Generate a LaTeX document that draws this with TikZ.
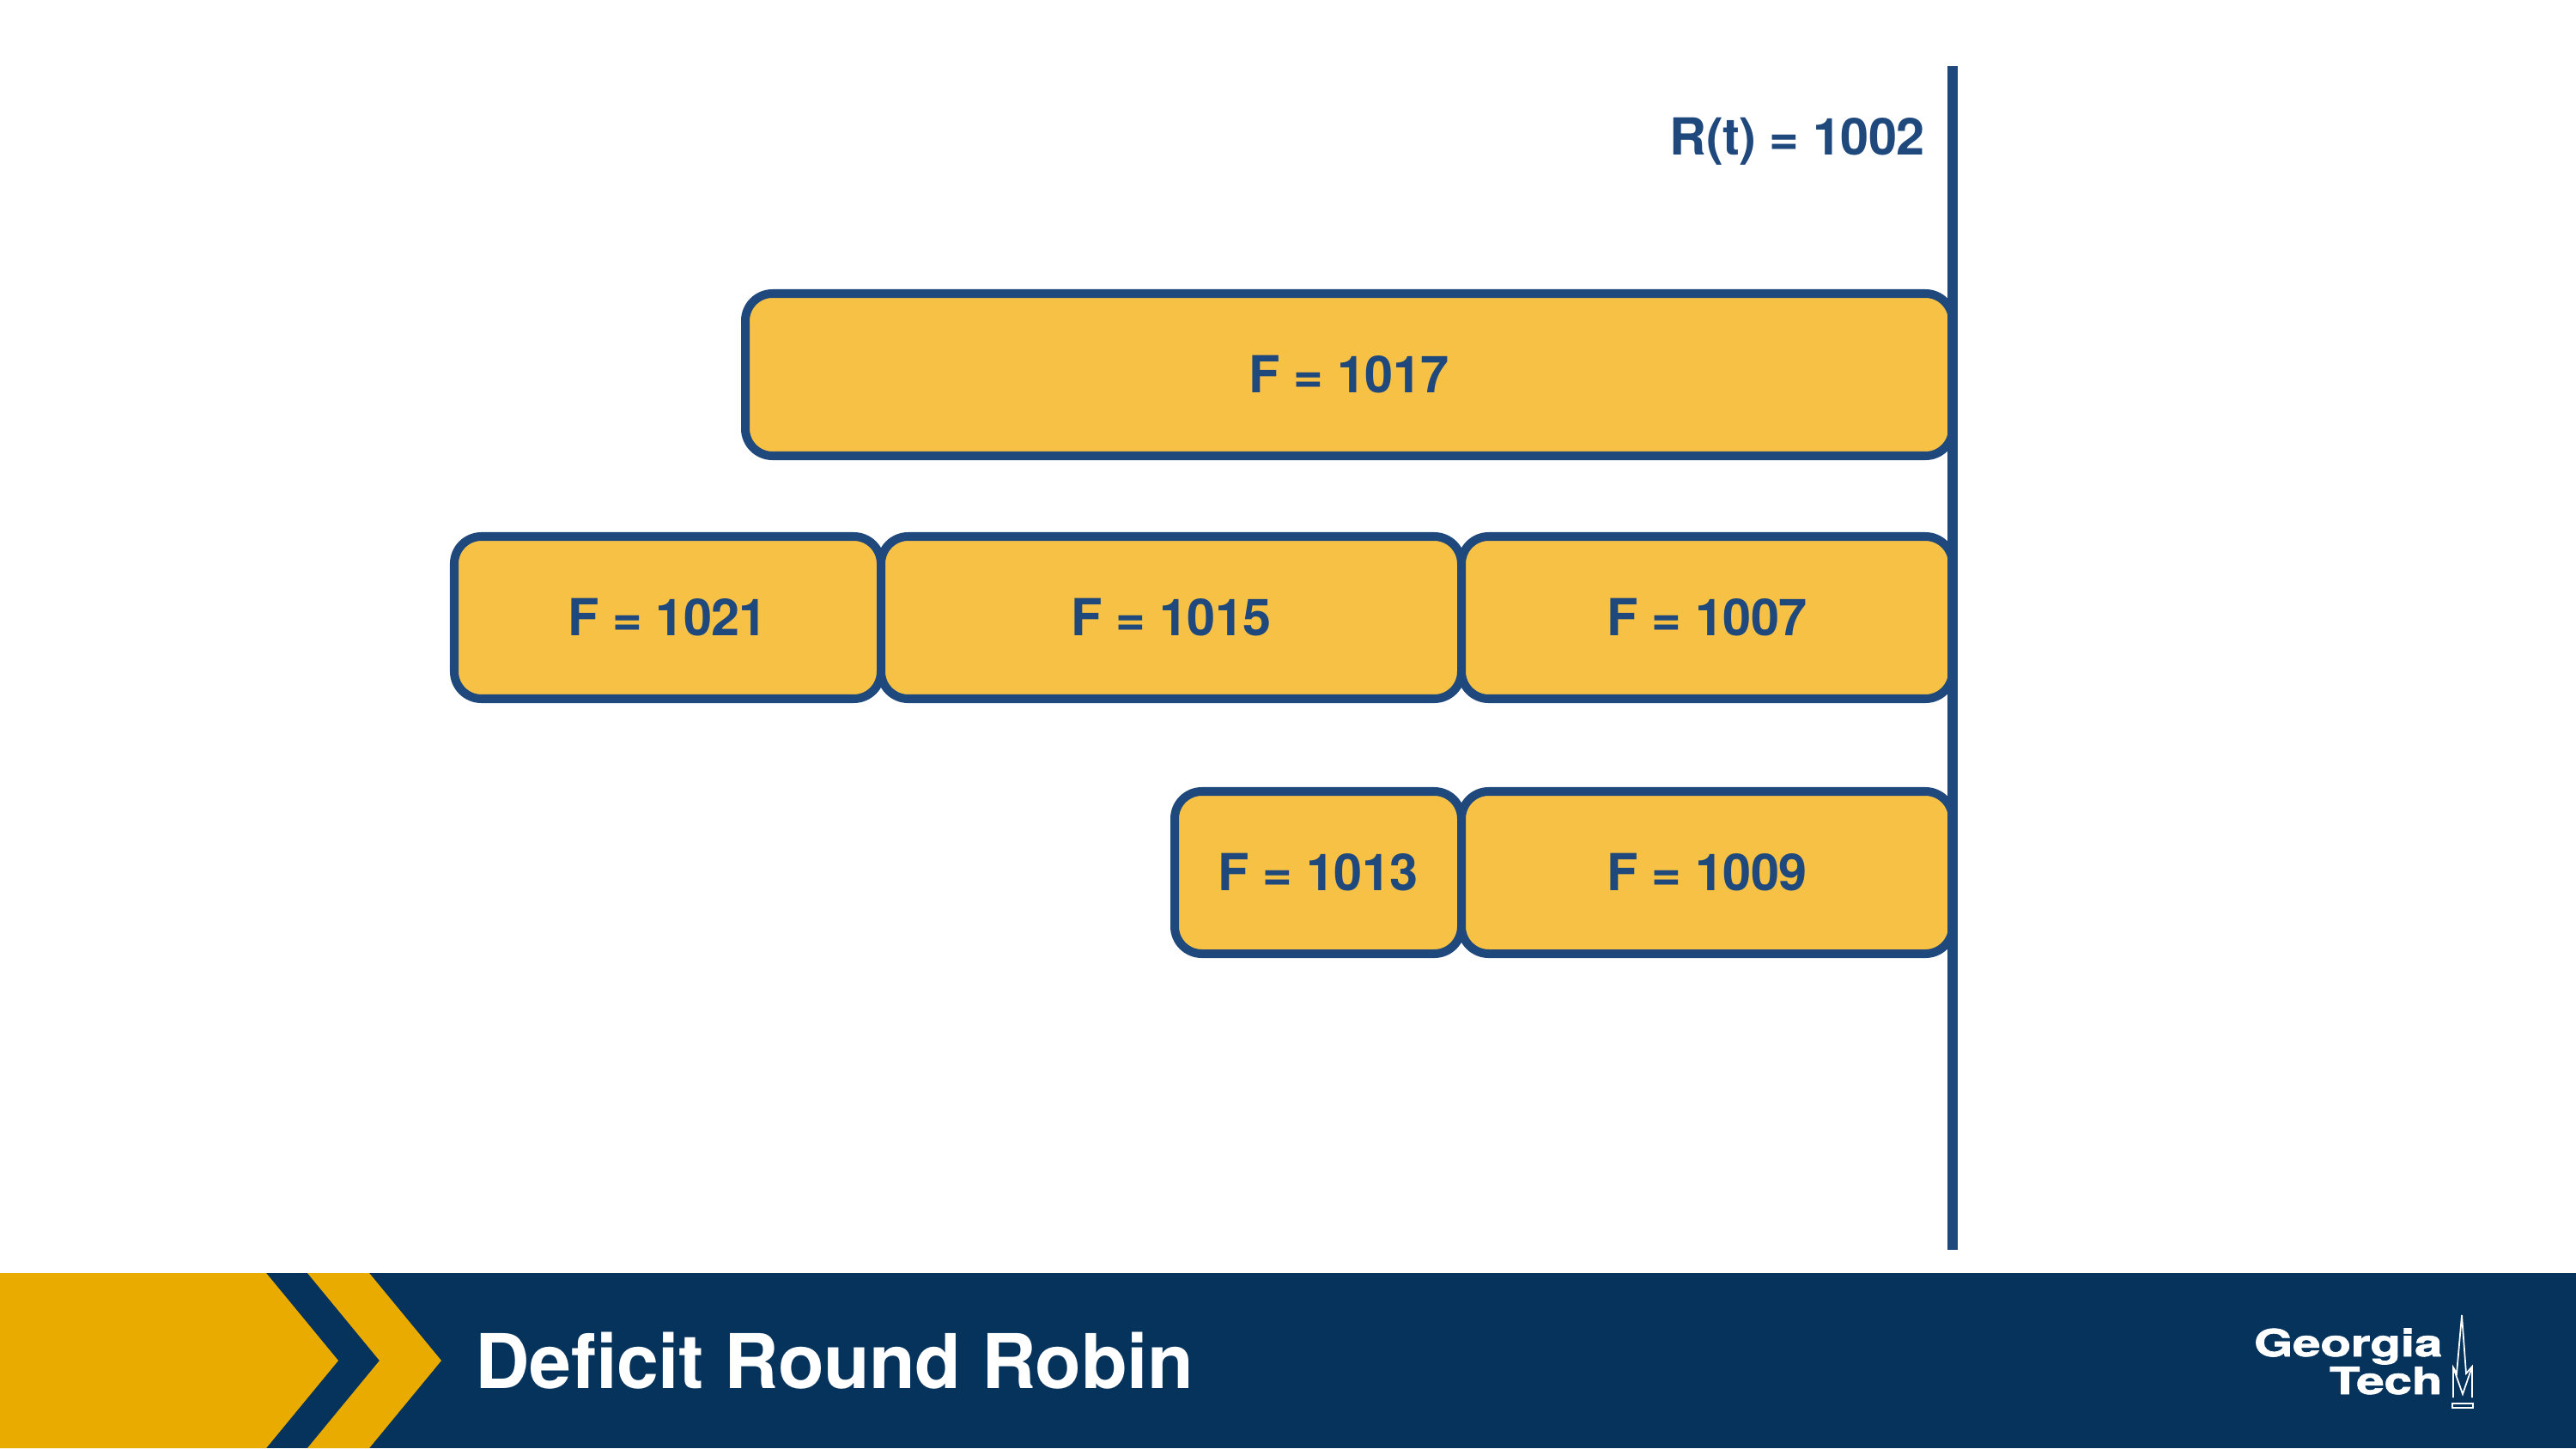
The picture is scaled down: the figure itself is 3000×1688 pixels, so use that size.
\documentclass[tikz,border=0pt]{standalone}
\usepackage{fontspec}
\setmainfont{TeX Gyre Heros}[LetterSpace=-1.2]
\newfontfamily\titlefont{TeX Gyre Heros}[LetterSpace=-.6]
\newfontfamily\logofont{TeX Gyre Heros}[BoldFeatures={FakeBold=1.6}]
\definecolor{gtnavy}{HTML}{05335C}
\definecolor{gtgold}{HTML}{EAAB00}
\definecolor{boxfill}{HTML}{F7C145}
\definecolor{boxline}{HTML}{1F497D}
\tikzset{
  pkt/.style={draw=boxline,fill=boxfill,line width=2.85pt,rounded corners=9pt,minimum height=189*.01cm,text=boxline,font=\bfseries\fontsize{16.9}{20}\selectfont,inner sep=0pt},
  logotext/.style={text=white,font=\logofont\bfseries\fontsize{12.4}{14}\selectfont,inner sep=0pt,anchor=base east}
}
\begin{document}
\begin{tikzpicture}[x=.01cm,y=-.01cm]
\useasboundingbox (0,0) rectangle (3000,1688);
\fill[white] (0,0) rectangle (3000,1688);
% banner
\fill[gtnavy] (0,1483) rectangle (3000,1687);
\fill[gtgold] (0,1483) -- (310,1483) -- (394,1585) -- (310,1687) -- (0,1687) -- cycle;
\fill[gtgold] (358,1483) -- (430,1483) -- (514,1585) -- (430,1687) -- (358,1687) -- (442,1585) -- cycle;
\node[anchor=base west,inner sep=0pt,text=white,font=\titlefont\bfseries\fontsize{25}{30}\selectfont] (title) at (553,1617) {Deficit Round Robin};
% boxes
\node[pkt,minimum width=1406*.01cm] (f1017) at (1571,436.5) {F = 1017};
\node[pkt,minimum width=497*.01cm] (f1021) at (777.5,719.5) {F = 1021};
\node[pkt,minimum width=676*.01cm] (f1015) at (1364,719.5) {F = 1015};
\node[pkt,minimum width=572*.01cm] (f1007) at (1988,719.5) {F = 1007};
\node[pkt,minimum width=334*.01cm] (f1013) at (1535,1016.5) {F = 1013};
\node[pkt,minimum width=572*.01cm] (f1009) at (1988,1016.5) {F = 1009};
% time line
\coordinate (rtop) at (2274,77);
\coordinate (rbot) at (2274,1456);
\draw[boxline,line width=3.55pt] (rtop) -- (rbot);
\node[anchor=base east,inner sep=0pt,text=boxline,font=\bfseries\fontsize{16.9}{20}\selectfont] (rt) at (2242,181) {R(t) = 1002};
% logo
\node[logotext] (georgia) at (2845,1580) {\scalebox{1.33}[1]{Georgia}};
\node[logotext] (tech) at (2845,1624) {\scalebox{1.33}[1]{Tech}};
\draw[white,line width=.5pt] (2867,1532) -- (2861,1600) -- (2857,1593) -- (2857,1628);
\draw[white,line width=.5pt] (2867,1532) -- (2872,1600) -- (2879,1592) -- (2879,1628);
\draw[white,line width=.5pt] (2857,1593) -- (2868,1624) -- (2879,1592);
\draw[white,line width=.7pt] (2856,1635) rectangle (2880,1640);
\end{tikzpicture}
\end{document}
